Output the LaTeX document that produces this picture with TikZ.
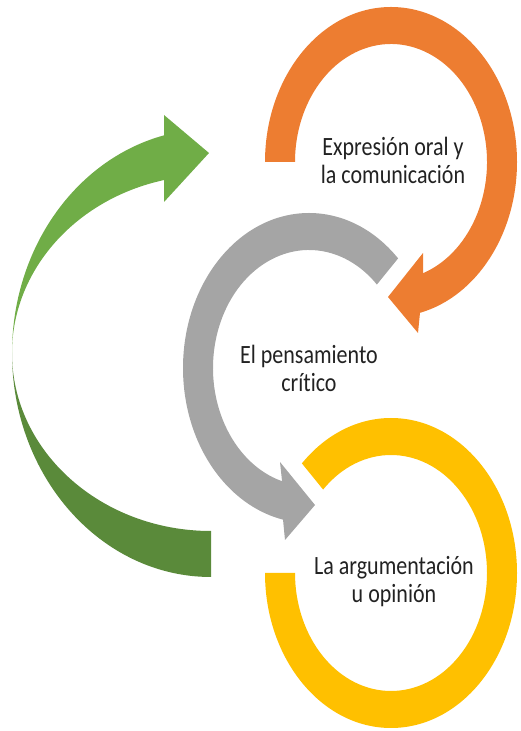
\documentclass[tikz,border=0pt]{standalone}
\usepackage{fontspec}
\setmainfont{Carlito}[Ligatures=NoCommon]
\usetikzlibrary{calc}
\definecolor{corange}{HTML}{ED7D31}
\definecolor{cgray}{HTML}{A5A5A5}
\definecolor{cyellow}{HTML}{FFC000}
\definecolor{cgreenA}{HTML}{70AD47}
\definecolor{cgreenB}{HTML}{5A8A3A}
\definecolor{ctext}{HTML}{222222}
\newcommand{\tallbox}[1]{\scalebox{1}[1.2]{\begin{tabular}{@{}c@{}}#1\end{tabular}}}
\begin{document}
\begin{tikzpicture}[x=1pt,y=1pt,
  txt/.style={font=\fontsize{22}{23.5}\selectfont, text=ctext, inner sep=0pt}]
\useasboundingbox (0,0) rectangle (520,731);
\coordinate (O) at (391,569);
\coordinate (G) at (309,363);
\coordinate (Yc) at (391,158);
\coordinate (Gr) at (211,378);
% orange ring with arrow
\fill[corange] ($(O)+(180:126 and 155)$) arc[start angle=180, end angle=-76.7, x radius=126, y radius=155]
  -- (418,398) -- (388,434) -- (423,478)
  -- ($(O)+(-70.5:96 and 118)$) arc[start angle=-70.5, end angle=180, x radius=96, y radius=118] -- cycle;
% gray ring with arrow
\fill[cgray] ($(G)+(45:126 and 155)$) arc[start angle=45, end angle=258.1, x radius=126, y radius=155]
  -- (285,191) -- (315,226) -- (280,269)
  -- ($(G)+(253.7:96 and 118)$) arc[start angle=253.7, end angle=45, x radius=96, y radius=118] -- cycle;
% yellow ring
\fill[cyellow] ($(Yc)+(180:126 and 155)$) arc[start angle=180, end angle=495, x radius=126, y radius=155]
  -- ($(Yc)+(135:96 and 118)$) arc[start angle=495, end angle=180, x radius=96, y radius=118] -- cycle;
% green arrow, upper part
\fill[cgreenA] ($(Gr)+(180:199 and 224)$) arc[start angle=180, end angle=103.66, x radius=199, y radius=224]
  -- (164,616) -- (209,578) -- (164,529)
  -- ($(Gr)+(103.66:199 and 178)$) arc[start angle=103.66, end angle=180, x radius=199, y radius=178] -- cycle;
% green arrow, lower part
\fill[cgreenB] ($(Gr)+(180:199 and 224)$) arc[start angle=180, end angle=270, x radius=199, y radius=224]
  -- ($(Gr)+(270:199 and 178)$) arc[start angle=270, end angle=180, x radius=199, y radius=178] -- cycle;
% texts
\node[txt] (t1) at (393,567) {\tallbox{Expresión oral y\\la comunicación}};
\node[txt] (t2) at (309,359) {\tallbox{El pensamiento\\crítico}};
\node[txt] (t3) at (394,148) {\tallbox{La argumentación\\u opinión}};
\end{tikzpicture}
\end{document}
